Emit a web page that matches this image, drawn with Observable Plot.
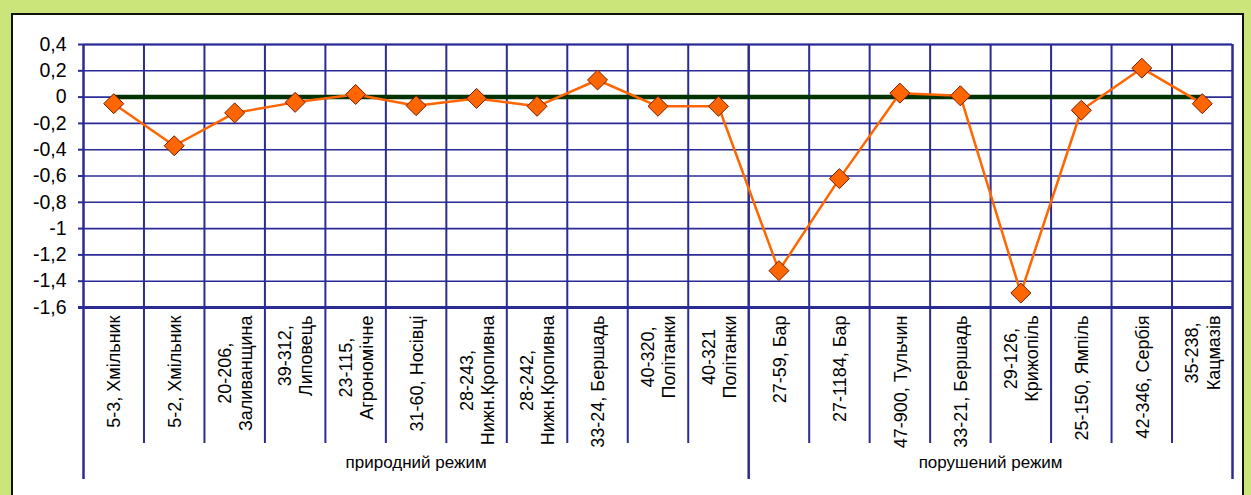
<!DOCTYPE html>
<html>
<head>
<meta charset="utf-8">
<script src="https://cdn.jsdelivr.net/npm/d3@7"></script>
<script src="https://cdn.jsdelivr.net/npm/@observablehq/plot@0.6"></script>
<style>
  html, body { margin: 0; padding: 0; background: #fff; }
  #wrap { position: relative; width: 1251px; height: 495px; background: #cce57a; overflow: hidden; }
  #inner { position: absolute; left: 11px; top: 13px; width: 1229px; height: 490px; background: #fff; border: 2px solid #111; }
  #chart { position: absolute; left: 0; top: 0; }
  #chart svg { overflow: visible; }
</style>
</head>
<body>
<div id="wrap"><div id="inner"></div><div id="chart"></div></div>
<script>
// ---- data ----
const categories = [
  "5-3, Хмільник", "5-2, Хмільник", "20-206,\nЗаливанщина", "39-312,\nЛиповець",
  "23-115,\nАгрономічне", "31-60, Носівці", "28-243,\nНижн.Кропивна", "28-242,\nНижн.Кропивна",
  "33-24, Бершадь", "40-320,\nПолітанки", "40-321\nПолітанки", "27-59, Бар",
  "27-1184, Бар", "47-900, Тульчин", "33-21, Бершадь", "29-126,\nКрижопіль",
  "25-150, Ямпіль", "42-346, Сербія", "35-238,\nКацмазів"
];
const values = [-0.05, -0.37, -0.12, -0.04, 0.02, -0.065, -0.01, -0.07, 0.13, -0.07, -0.07,
                -1.32, -0.62, 0.03, 0.01, -1.49, -0.10, 0.22, -0.05];
const baseline = categories.map(() => 0);
const groups = ["природний режим", "порушений режим"];
const groupSizes = [11, 8];
const yTicks = [0.4, 0.2, 0, -0.2, -0.4, -0.6, -0.8, -1, -1.2, -1.4, -1.6];

// ---- derived tables ----
const pts = categories.map((c, i) => ({i: i + 0.5, label: c, v: values[i], z: baseline[i]}));
const boundaries = d3.range(1, categories.length).filter(b => b !== groupSizes[0]);
const groupEdges = [0, groupSizes[0], categories.length];
const groupPos = [groupSizes[0] / 2, groupSizes[0] + groupSizes[1] / 2];

const FONT = "Liberation Sans, Arial, sans-serif";
const navy = "#2b2b95";
const LABEL_SIZE = 18;
const ctx = document.createElement("canvas").getContext("2d");
ctx.font = LABEL_SIZE + "px 'Liberation Sans'";
const widthOf = s => Math.max(...s.split("\n").map(l => ctx.measureText(l).width));

const fmt = d => String(Math.round(d * 10) / 10).replace(".", ",");

const labelMarks = pts.map(p => Plot.text([p], {
  x: "i", text: "label", frameAnchor: "bottom", rotate: -90,
  textAnchor: "middle", lineAnchor: "middle", lineHeight: 1.17,
  dy: 8 + widthOf(p.label) / 2, fontSize: LABEL_SIZE, fill: "#000"
}));

const chart = Plot.plot({
  width: 1251, height: 495,
  marginLeft: 83, marginRight: 19, marginTop: 44, marginBottom: 188,
  style: {fontFamily: FONT, fontSize: "17px", background: "transparent", color: "#000"},
  x: {type: "linear", domain: [0, categories.length], axis: null},
  y: {domain: [-1.6, 0.4], label: null},
  marks: [
    Plot.gridY(yTicks, {stroke: navy, strokeOpacity: 1, strokeWidth: 1.6}),
    Plot.ruleX(boundaries, {stroke: navy, strokeWidth: 2, insetBottom: -136}),
    Plot.ruleX(groupEdges, {stroke: navy, strokeWidth: 2.5, insetBottom: -172}),
    Plot.ruleY([0.4], {stroke: navy, strokeWidth: 2}),
    Plot.ruleY([-1.6], {stroke: navy, strokeWidth: 3, insetLeft: -5}),
    Plot.axisY(yTicks, {tickFormat: () => "", tickSize: 5, stroke: navy, strokeWidth: 2}),
    Plot.text(yTicks, {y: d => d, text: fmt, frameAnchor: "left", dx: -17, textAnchor: "end", fontSize: 19.5, fill: "#000"}),
    Plot.lineY(pts, {x: "i", y: "z", stroke: "#003300", strokeWidth: 4.5}),
    Plot.lineY(pts, {x: "i", y: "v", stroke: "#ff6600", strokeWidth: 2.5}),
    Plot.dot(pts, {x: "i", y: "v", symbol: "diamond2", r: 9, fill: "#ff6600", stroke: "#7a1a00", strokeWidth: 1}),
    ...labelMarks,
    Plot.text(groups, {x: (d, k) => groupPos[k], text: d => d, frameAnchor: "bottom", dy: 160, fontSize: 17, fill: "#000"})
  ]
});
document.getElementById("chart").appendChild(chart);
</script>
</body>
</html>
